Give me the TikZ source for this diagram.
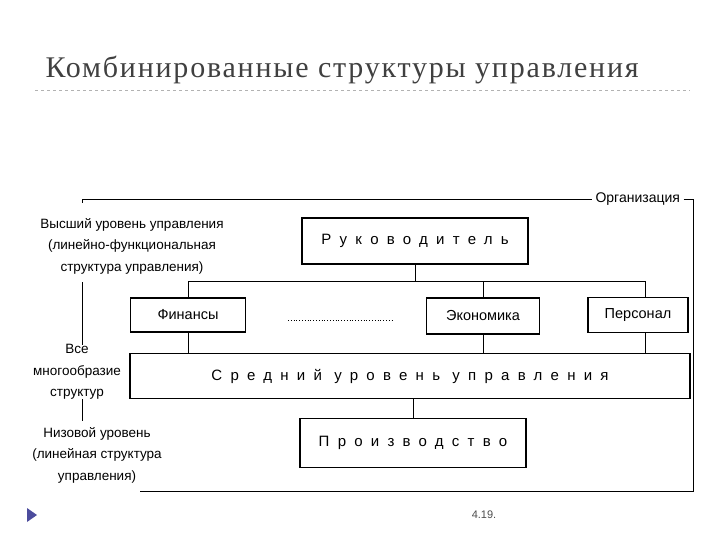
\documentclass[tikz,border=0pt]{standalone}
\usepackage{fontspec}
\setmainfont{Liberation Sans}
\newfontfamily\titlefont[LetterSpace=6]{Liberation Serif}
\newfontfamily\spaced[LetterSpace=55]{Liberation Sans}
\begin{document}
\begin{tikzpicture}[x=1pt,y=-1pt,
  box/.style={draw,line width=1.3pt,minimum height=#1,inner sep=0pt},
  lbl/.style={align=center,font=\fontsize{13.5}{21.5}\selectfont},
  ln/.style={line width=0.8pt}]
\useasboundingbox (0,0) rectangle (720,540);
\node[anchor=west,text=black!75,font=\titlefont\fontsize{30}{30}\selectfont] (title) at (42,70) {Комбинированные структуры управления};
\draw[black!30,dashed] (35,90) -- (690,90);
\node[box=46pt,minimum width=226pt,font=\spaced\fontsize{15}{15}\selectfont] (ruk) at (415,241) {Руководитель};
\node[box=34pt,minimum width=115pt,font=\fontsize{14.5}{14}\selectfont] (fin) at (188,315) {Финансы};
\node[box=36pt,minimum width=113pt,font=\fontsize{14.5}{14}\selectfont] (eco) at (483,316) {Экономика};
\node[box=35pt,minimum width=100pt,font=\fontsize{14.5}{14}\selectfont] (per) at (638,315) {Персонал};
\node[box=45pt,minimum width=560pt,font=\spaced\fontsize{15}{15}\selectfont] (mid) at (410,376) {Средний уровень управления};
\node[box=49pt,minimum width=226pt,font=\spaced\fontsize{15}{15}\selectfont] (prod) at (413,443) {Производство};
\coordinate (j) at (415,281);
\draw[ln] (ruk.south) -- (j);
\draw[ln] (188,281) -- (645,281);
\draw[ln] (188,281) -- (fin.north);
\draw[ln] (eco.north) -- (483,281);
\draw[ln] (645,281) -- (645,297.5);
\draw[ln] (fin.south) -- (188,353);
\draw[ln] (eco.south) -- (483,353);
\draw[ln] (645,333) -- (645,353);
\draw[ln] (413,398) -- (prod.north);
\draw[dotted,line width=0.8pt] (288,320) -- (392,320);
\node[lbl] (top) at (132,246) {Высший уровень управления\\(линейно-функциональная\\структура управления)};
\node[lbl] (midl) at (77,372) {Все\\многообразие\\структур};
\node[lbl] (low) at (97,455) {Низовой уровень\\(линейная структура\\управления)};
\node[anchor=west,font=\fontsize{14}{14}\selectfont] (org) at (592,199) {Организация};
\draw[ln] (82,203) -- (82,199) -- (org.west);
\draw[ln] (org.east) -- (693,199) -- (693,491) -- (140,491);
\draw[ln] (82,282) -- (82,345);
\draw[ln] (82,399) -- (82,421);
\fill[blue!45!black!70] (27,508) -- (37,515) -- (27,522) -- cycle;
\node[font=\fontsize{11}{11}\selectfont,text=black!70] (num) at (484,515) {4.19.};
\end{tikzpicture}
\end{document}
